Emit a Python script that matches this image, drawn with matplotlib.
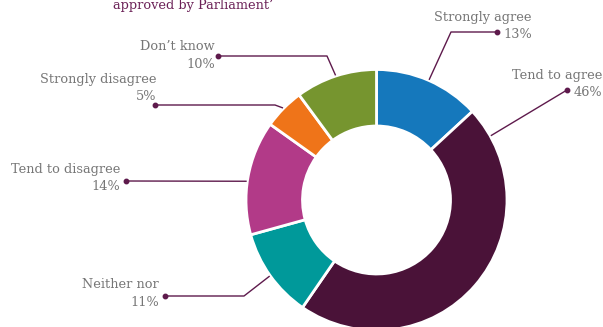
import numpy as np
import matplotlib.pyplot as plt

# Survey responses, clockwise from 12 o'clock
labels = ["Strongly agree", "Tend to agree", "Neither nor",
          "Tend to disagree", "Strongly disagree", "Don\u2019t know"]
values = [13, 46, 11, 14, 5, 10]
colors = ["#1578BC", "#4A1238", "#00999A", "#B23A88", "#EF7419", "#76952F"]

W, H = 603, 327
fig = plt.figure(figsize=(W / 100, H / 100), dpi=100)
ax = fig.add_axes([0, 0, 1, 1])

def py(y):
    # pixel row (from top) -> data y
    return H - y

cx, cy, r_out, r_in = 376.5, py(200), 130.5, 74
wedges, _ = ax.pie(values, colors=colors, startangle=90, counterclock=False,
                   center=(cx, cy), radius=r_out, frame=True,
                   wedgeprops=dict(width=r_out - r_in, edgecolor="white", linewidth=2))
ax.set_xlim(0, W)
ax.set_ylim(0, H)
ax.set_aspect("equal")
ax.axis("off")

line_col = "#5E1A4C"
text_col = "#767676"
font = "DejaVu Serif"

# where along each wedge (clockwise, 0 = start) the leader line attaches
attach = [0.5, 0.08, 0.5, 0.465, 0.5, 0.5]
# leader path after the wedge: optional elbow, then the dot (pixel coords)
paths = [
    [(451, 32), (497, 32)],
    [(567, 90)],
    [(244, 296), (165, 296)],
    [(126, 181)],
    [(275, 105), (155, 105)],
    [(327, 56), (218, 56)],
]
# right edge of each text block and row of the label line
text_pos = [(532, 17), (602, 75), (159, 285), (120, 169), (156, 79), (215, 46)]

for w, lab, v, f, path, (tx, ty) in zip(wedges, labels, values, attach, paths, text_pos):
    # clockwise wedges run from theta2 down to theta1
    ang = np.deg2rad(w.theta2 - f * (w.theta2 - w.theta1))
    x0 = cx + r_out * 1.005 * np.cos(ang)
    y0 = cy + r_out * 1.005 * np.sin(ang)
    xs = [x0] + [p[0] for p in path]
    ys = [y0] + [py(p[1]) for p in path]
    ax.plot(xs, ys, color=line_col, lw=1.0, solid_capstyle="butt")
    ax.plot(xs[-1], ys[-1], "o", color=line_col, ms=3.2)
    ax.text(tx, py(ty), lab, ha="right", va="center", color=text_col,
            fontsize=9.3, family=font)
    ax.text(tx, py(ty + 18), f"{v}%", ha="right", va="center", color=text_col,
            fontsize=9.3, family=font)

ax.text(113, py(9), "approved by Parliament\u2019", ha="left", va="baseline",
        color="#6B2157", fontsize=9.3, family=font)

fig.savefig("out.png", dpi=100)
